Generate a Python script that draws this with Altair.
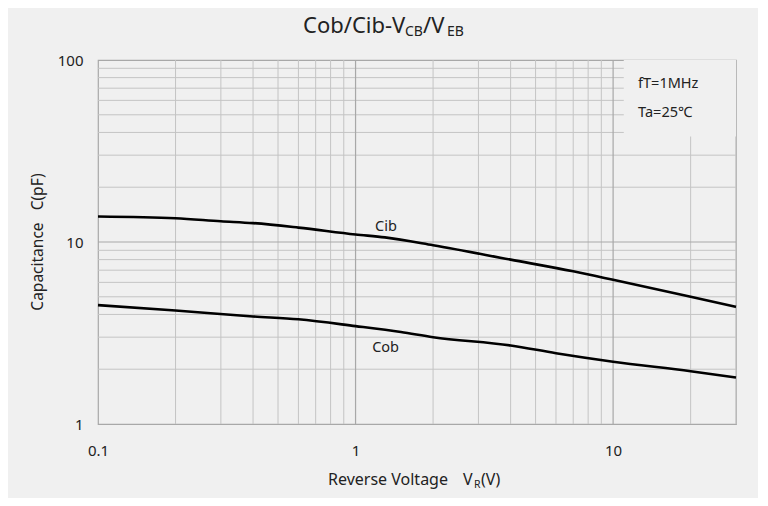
import altair as alt
import pandas as pd

# ---- data ----
cib_v = [0.1, 0.2, 0.3, 0.4, 0.6, 1.0, 1.3, 2.0, 4.0, 7.0, 10.0, 20.0, 30.0]
cib_c = [13.8, 13.5, 13.0, 12.7, 12.0, 11.0, 10.6, 9.6, 8.0, 6.9, 6.2, 5.0, 4.4]
cob_v = [0.1, 0.2, 0.4, 0.6, 1.0, 1.5, 2.0, 4.0, 6.0, 10.0, 20.0, 30.0]
cob_c = [4.5, 4.2, 3.9, 3.76, 3.45, 3.2, 3.0, 2.7, 2.45, 2.2, 1.95, 1.8]

x_ticks = [0.1, 1, 10]
y_ticks = [1, 10, 100]
x_minor = [0.2, 0.3, 0.4, 0.5, 0.6, 0.7, 0.8, 0.9, 2, 3, 4, 5, 6, 7, 8, 9, 20, 30]
x_major = [1, 10]
y_minor = [2, 3, 4, 5, 6, 7, 8, 9, 20, 30, 40, 50, 60, 70, 80, 90]
y_major = [10]

curve_labels = ["Cib", "Cob"]
curve_label_v = [1.19, 1.16]
curve_label_c = [11.5, 2.49]

cond_labels = ["fT=1MHz", "Ta=25℃"]
cond_v = [12.5, 12.5]
cond_c = [70.2, 48.6]

BG = "#f0f0f0"
FONT = "Noto Sans"
TXT = "#222222"

xs = alt.Scale(type="log", domain=[0.1, 30], nice=False)
ys = alt.Scale(type="log", domain=[1, 100], nice=False)

x_axis = alt.Axis(values=x_ticks, format="~g", title=None, grid=False, ticks=False,
                  tickSize=0, domain=False, labelPadding=19, labelFontSize=15,
                  labelFlush=False, labelOverlap=False,
                  labelFont=FONT, labelColor=TXT)
y_axis = alt.Axis(values=y_ticks, format="~g", title=None, grid=False, ticks=False,
                  tickSize=0, domain=False, labelPadding=15, labelFontSize=15,
                  labelFlush=False, labelOverlap=False,
                  labelFont=FONT, labelColor=TXT)

curves = pd.DataFrame({
    "V": cib_v + cob_v,
    "C": cib_c + cob_c,
    "curve": ["Cib"] * len(cib_v) + ["Cob"] * len(cob_v),
})

xg_minor = alt.Chart(pd.DataFrame({"V": x_minor})).mark_rule(color="#c4c4c4", strokeWidth=1).encode(
    x=alt.X("V:Q", scale=xs, axis=x_axis))
xg_major = alt.Chart(pd.DataFrame({"V": x_major})).mark_rule(color="#a8a8a8", strokeWidth=1.2).encode(
    x=alt.X("V:Q", scale=xs, axis=x_axis))
yg_minor = alt.Chart(pd.DataFrame({"C": y_minor})).mark_rule(color="#c4c4c4", strokeWidth=1).encode(
    y=alt.Y("C:Q", scale=ys, axis=y_axis))
yg_major = alt.Chart(pd.DataFrame({"C": y_major})).mark_rule(color="#a8a8a8", strokeWidth=1.2).encode(
    y=alt.Y("C:Q", scale=ys, axis=y_axis))

box = alt.Chart(pd.DataFrame({"v1": [11.0], "v2": [30.0], "c1": [38.0], "c2": [100.0]})).mark_rect(
    color=BG).encode(
    x=alt.X("v1:Q", scale=xs, axis=x_axis), x2="v2:Q",
    y=alt.Y("c1:Q", scale=ys, axis=y_axis), y2="c2:Q")

lines = alt.Chart(curves).mark_line(color="black", strokeWidth=2.6, interpolate="monotone").encode(
    x=alt.X("V:Q", scale=xs, axis=x_axis),
    y=alt.Y("C:Q", scale=ys, axis=y_axis),
    detail="curve:N",
)

clabels = alt.Chart(pd.DataFrame({"V": curve_label_v, "C": curve_label_c, "t": curve_labels})).mark_text(
    align="left", baseline="alphabetic", fontSize=14.5, font=FONT, color=TXT).encode(
    x=alt.X("V:Q", scale=xs, axis=x_axis), y=alt.Y("C:Q", scale=ys, axis=y_axis), text="t:N")

conds = alt.Chart(pd.DataFrame({"V": cond_v, "C": cond_c, "t": cond_labels})).mark_text(
    align="left", baseline="alphabetic", fontSize=14.5, font=FONT, color=TXT).encode(
    x=alt.X("V:Q", scale=xs, axis=x_axis), y=alt.Y("C:Q", scale=ys, axis=y_axis), text="t:N")


def ptext(s, px, py, size, angle=0, align="left", baseline="alphabetic"):
    kw = dict(align=align, baseline=baseline, fontSize=size, font=FONT, color=TXT)
    if angle:
        kw["angle"] = angle
    return alt.Chart(pd.DataFrame({"t": [s]})).mark_text(**kw).encode(
        x=alt.value(px), y=alt.value(py), text="t:N")


title_parts = [
    ptext("Cob/Cib-V", 205, -27, 22),
    ptext("CB", 307, -24, 14),
    ptext("/V", 325, -27, 22),
    ptext("EB", 349, -24, 14),
]
xtitle_parts = [
    ptext("Reverse Voltage", 230, 425, 16),
    ptext("V", 365, 425, 16),
    ptext("R", 376, 428, 10.5),
    ptext("(V)", 383, 425, 16),
]
ytitle = ptext("Capacitance\u00a0\u00a0\u00a0C(pF)", -60, 182, 15.5, angle=270,
               align="center", baseline="middle")

chart = alt.layer(
    yg_minor, xg_minor, yg_major, xg_major, box, lines, clabels, conds,
    *title_parts, *xtitle_parts, ytitle,
).properties(
    width=638, height=364,
    autosize=alt.AutoSizeParams(type="none"),
    padding={"left": 90, "top": 52, "right": 22, "bottom": 74},
    background=BG,
).configure_view(
    stroke="#a8a8a8", strokeWidth=1.2,
).configure_axis(
    labelFont=FONT,
)

chart.save("out.html", embed_options={"renderer": "svg", "actions": False})
